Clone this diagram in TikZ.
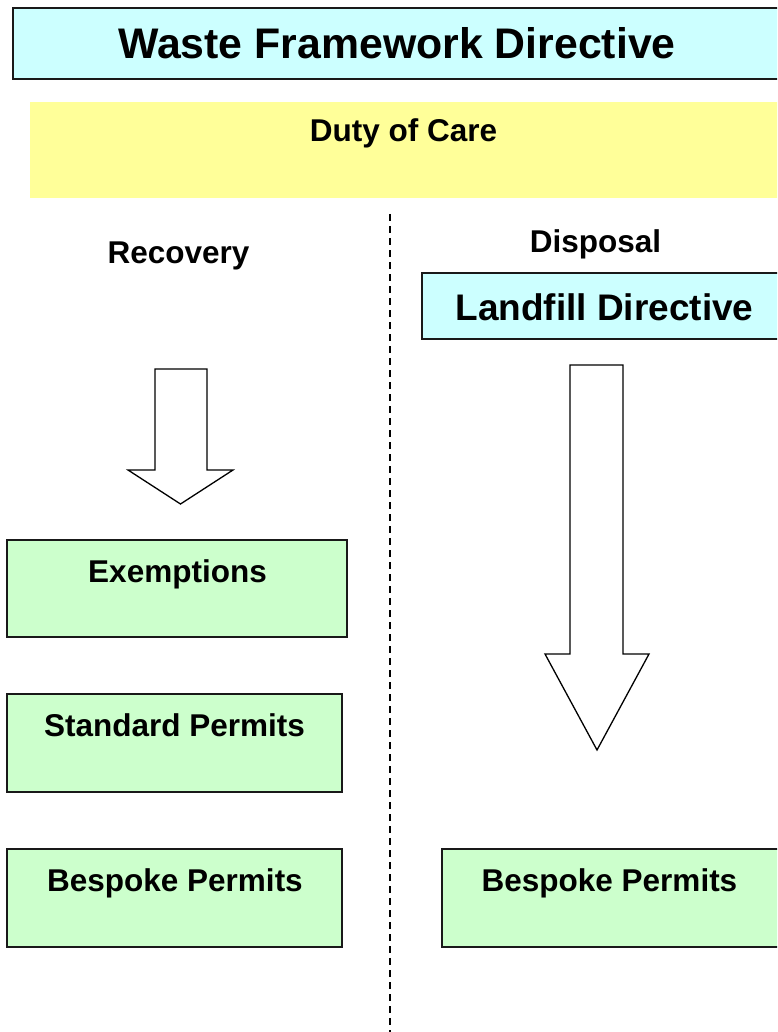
\documentclass[tikz,border=0pt]{standalone}
\usepackage{fontspec}
\setmainfont{Liberation Sans}
\definecolor{cyanbg}{HTML}{CCFFFF}
\definecolor{yellowbg}{HTML}{FFFF99}
\definecolor{greenbg}{HTML}{CCFFCC}
\begin{document}
\begin{tikzpicture}[x=1pt,y=-1pt,
  box/.style={draw=black!90, line width=1.8pt, inner sep=0pt, outer sep=0pt, anchor=north west},
  plainbox/.style={inner sep=0pt, outer sep=0pt, anchor=north west},
  lbl/.style={font=\bfseries\fontsize{31.5}{36}\selectfont, anchor=base, inner sep=0pt},
  biglbl/.style={font=\bfseries\fontsize{42.8}{48}\selectfont, anchor=base, inner sep=0pt},
  midlbl/.style={font=\bfseries\fontsize{37}{42}\selectfont, anchor=base, inner sep=0pt},
  arrowshape/.style={draw=black, line width=1.3pt, fill=white, line join=miter},
  divider/.style={draw=black, line width=1.3pt, dash pattern=on 7pt off 5pt}]
\useasboundingbox (0,0) rectangle (777,1032);
\clip (0,0) rectangle (777,1032);
\fill[white] (0,0) rectangle (777,1032);

% divider
\coordinate (dtop) at (390,214);
\coordinate (dbot) at (390,1032);
\draw[divider] (dtop) -- (dbot);

% title
\node[box, fill=cyanbg, minimum width=790pt, minimum height=71pt] (wfdbox) at (13,8) {};
\node[biglbl] (wfd) at (397,59) {Waste Framework Directive};

% duty of care
\node[plainbox, fill=yellowbg, minimum width=770pt, minimum height=96pt] (dutybox) at (30,102) {};
\node[lbl] (duty) at (403.5,142) {Duty of Care};

% column heads
\node[lbl] (recovery) at (178.5,263) {Recovery};
\node[lbl] (disposal) at (595.5,252) {Disposal};

% landfill directive
\node[box, fill=cyanbg, minimum width=380pt, minimum height=66pt] (ldbox) at (422,273) {};
\node[midlbl] (ld) at (604.5,320) {Landfill Directive};

% arrows
\draw[arrowshape] (155,369) -- (207,369) -- (207,470) -- (233,470) -- (180.5,504) -- (128,470) -- (155,470) -- cycle;
\draw[arrowshape] (570,365) -- (623,365) -- (623,654) -- (649,654) -- (597,750) -- (545,654) -- (570,654) -- cycle;

% green boxes
\node[box, fill=greenbg, minimum width=340pt, minimum height=97pt] (exbox) at (7,540) {};
\node[lbl] (ex) at (177.5,582) {Exemptions};

\node[box, fill=greenbg, minimum width=335pt, minimum height=98pt] (stbox) at (7,694) {};
\node[lbl] (st) at (174.5,736) {Standard Permits};

\node[box, fill=greenbg, minimum width=335pt, minimum height=98pt] (bpleftbox) at (7,849) {};
\node[lbl] (bpleft) at (175,891) {Bespoke Permits};

\node[box, fill=greenbg, minimum width=360pt, minimum height=98pt] (bprightbox) at (442,849) {};
\node[lbl] (bpright) at (609.5,891) {Bespoke Permits};
\end{tikzpicture}
\end{document}
